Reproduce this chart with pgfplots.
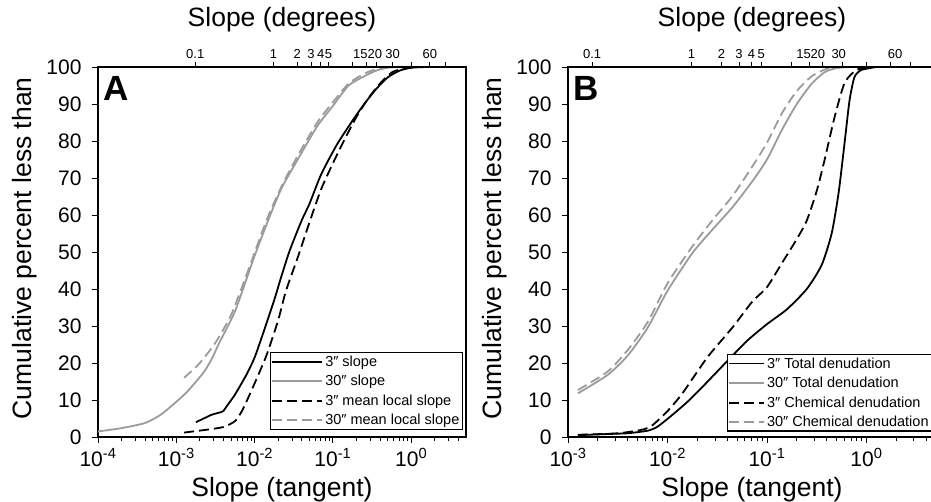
\documentclass[border=0pt]{standalone}
\usepackage{fontspec}
\setmainfont{Liberation Sans}
\usepackage{pgfplots}
\pgfplotsset{compat=1.18}

\definecolor{lgray}{RGB}{155,155,155}

\pgfplotsset{
  blk/.style={black, line width=1.8pt, smooth, tension=0.4},
  gry/.style={lgray, line width=1.8pt, smooth, tension=0.4},
  dsh/.style={dash pattern=on 10pt off 5pt},
}
\newcommand\tickfont{\fontsize{21}{21}\selectfont}
\newcommand\labfont{\fontsize{26.5}{26.5}\selectfont}
\newcommand\legfont{\fontsize{14.5}{16}\selectfont}
\newcommand\degfont{\fontsize{13}{14}\selectfont}

\begin{document}
\begin{tikzpicture}

% ---------- panel A ----------
\begin{axis}[at={(98pt,65pt)}, anchor=south west,
  scale only axis, width=368pt, height=370pt,
  xmode=log, xmin=1e-4, xmax=5, ymin=0, ymax=100,
  ytick={0,10,...,100},
  xtick={1e-4,1e-3,1e-2,1e-1,1},
  xticklabels={10\textsuperscript{-4},10\textsuperscript{-3},10\textsuperscript{-2},10\textsuperscript{-1},10\textsuperscript{0}},
  minor xtick={2e-4,3e-4,4e-4,5e-4,6e-4,7e-4,8e-4,9e-4,
    2e-3,3e-3,4e-3,5e-3,6e-3,7e-3,8e-3,9e-3,
    2e-2,3e-2,4e-2,5e-2,6e-2,7e-2,8e-2,9e-2,
    0.2,0.3,0.4,0.5,0.6,0.7,0.8,0.9,2,3,4},
  tick align=outside, xtick pos=bottom, ytick pos=left,
  major tick length=6pt, minor tick length=4pt,
  axis line style={line width=1.5pt},
  every tick/.style={line width=0.9pt, black},
  /pgf/number format/assume math mode=true,
  xticklabel style={font=\tickfont, yshift=-2pt},
  yticklabel style={font=\tickfont, xshift=-7pt},
  ylabel={Cumulative percent less than},
  ylabel style={at={(axis description cs:-0.2,0.51)}, anchor=center, font=\labfont},
  xlabel={Slope (tangent)},
  xlabel style={at={(axis description cs:0.5,-0.143)}, anchor=center, font=\labfont},
  legend cell align=left,
  legend style={at={(0.992,0.019)}, anchor=south east, draw=black, line width=1.4pt,
    inner sep=1pt, font=\legfont, row sep=3.5pt},
  legend image code/.code={\draw[#1, line width=1.6pt] (0pt,0pt) -- (50pt,0pt);}]
\addplot[blk] coordinates {(1.778e-3,4) (2.239e-3,5) (2.818e-3,6) (3.548e-3,6.6) (3.981e-3,7)
  (4.467e-3,8.5) (5.623e-3,11.5) (7.943e-3,17) (1e-2,21.5) (1.259e-2,27.5) (1.778e-2,37)
  (2.239e-2,44) (2.818e-2,50.5) (3.981e-2,58.5) (5.012e-2,63) (7.079e-2,71) (0.1122,79)
  (0.1778,85.5) (0.2512,90) (0.3548,94) (0.5012,97.2) (0.7079,99) (1,99.8) (1.585,100)};
\addlegendentry{3″ slope}
\addplot[gry] coordinates {(1e-4,1.5) (2e-4,2.4) (4e-4,3.8) (6.3e-4,6) (1e-3,9.5)
  (1.413e-3,12.5) (2.239e-3,17.5) (2.818e-3,21) (3.548e-3,25.5) (5.623e-3,34) (8.913e-3,46) (1e-2,49)
  (1.585e-2,60) (2.239e-2,67.5) (3.548e-2,75) (6.31e-2,84) (0.1,89.5) (0.1585,95)
  (0.2512,97.5) (0.3548,99) (0.5012,99.8) (0.794,100) (2.512,100)};
\addlegendentry{30″ slope}
\addplot[blk, dsh] coordinates {(1.259e-3,1.2) (2.512e-3,2) (3.981e-3,2.7) (5.623e-3,4.3)
  (7.079e-3,7.5) (1e-2,14.5) (1.413e-2,22) (1.995e-2,31.5) (2.512e-2,39.5) (3.548e-2,48.5)
  (5.012e-2,58) (7.079e-2,67) (0.1,74) (0.1413,80.5) (0.1995,86.5) (0.2818,91.5)
  (0.3981,95.5) (0.5623,98.5) (0.7943,99.6) (1.259,100)};
\addlegendentry{3″ mean local slope}
\addplot[gry, dsh] coordinates {(1.259e-3,16) (1.995e-3,20) (3.162e-3,25.5) (5.012e-3,33)
  (7.943e-3,44) (1.413e-2,58.5) (2.239e-2,68) (3.548e-2,76) (6.31e-2,85) (0.1,90.5)
  (0.1585,95.5) (0.2512,98.2) (0.3548,99.4) (0.5012,100) (1,100)};
\addlegendentry{30″ mean local slope}
\node[anchor=north west, inner sep=0pt, font=\bfseries\fontsize{35}{35}\selectfont]
  at (rel axis cs:0.015,0.975) {A};
\end{axis}

\begin{axis}[at={(98pt,65pt)}, anchor=south west,
  scale only axis, width=368pt, height=370pt,
  xmode=log, xmin=1e-4, xmax=5, ymin=0, ymax=100,
  axis x line*=top, axis y line=none,
  x axis line style={-, line width=1.5pt},
  tick align=outside, major tick length=5pt,
  every tick/.style={line width=0.9pt, black},
  xtick={0.0017453,0.0174551,0.0349208,0.0524078,0.0699268,0.0874887,0.176327,0.267949,0.36397,0.57735,1,1.73205,2.74748},
  xticklabels={0.1,1,2,3,4,5,,\makebox[0pt]{15\kern12pt},\makebox[0pt]{20\kern4pt},30,,60,},
  xticklabel style={font=\degfont},
  xlabel={Slope (degrees)},
  xlabel style={at={(axis description cs:0.5,1.127)}, anchor=center, font=\labfont}]
\addplot[draw=none] coordinates {(1,50)};
\end{axis}

% ---------- panel B ----------
\begin{axis}[at={(568pt,65pt)}, anchor=south west,
  scale only axis, width=368pt, height=370pt,
  xmode=log, xmin=1e-3, xmax=5, ymin=0, ymax=100,
  ytick={0,10,...,100},
  xtick={1e-3,1e-2,1e-1,1},
  xticklabels={10\textsuperscript{-3},10\textsuperscript{-2},10\textsuperscript{-1},10\textsuperscript{0}},
  minor xtick={2e-3,3e-3,4e-3,5e-3,6e-3,7e-3,8e-3,9e-3,
    2e-2,3e-2,4e-2,5e-2,6e-2,7e-2,8e-2,9e-2,
    0.2,0.3,0.4,0.5,0.6,0.7,0.8,0.9,2,3,4},
  tick align=outside, xtick pos=bottom, ytick pos=left,
  major tick length=6pt, minor tick length=4pt,
  axis line style={line width=1.5pt},
  every tick/.style={line width=0.9pt, black},
  /pgf/number format/assume math mode=true,
  xticklabel style={font=\tickfont, yshift=-2pt},
  yticklabel style={font=\tickfont, xshift=-7pt},
  ylabel={Cumulative percent less than},
  ylabel style={at={(axis description cs:-0.2,0.51)}, anchor=center, font=\labfont},
  xlabel={Slope (tangent)},
  xlabel style={at={(axis description cs:0.5,-0.143)}, anchor=center, font=\labfont},
  legend cell align=left,
  legend style={at={(0.99,0.014)}, anchor=south east, draw=black, line width=1.4pt,
    inner sep=1pt, font=\legfont, row sep=3.5pt},
  legend image code/.code={\draw[#1, line width=1.8pt] (0pt,0pt) -- (35pt,0pt);}]
\addplot[blk] coordinates {(1.259e-3,0.5) (3.162e-3,0.9) (3.981e-3,1.0) (6.31e-3,1.7)
  (7.943e-3,2.8) (1.122e-2,6) (1.585e-2,9.5) (2.239e-2,13.5) (3.981e-2,20.5) (6.31e-2,26)
  (0.1,30.5) (0.1585,34.5) (0.2512,40) (0.3548,46.5) (0.4467,55) (0.5248,66) (0.6026,79.5)
  (0.6761,91) (0.7586,97.3) (0.8913,99.2) (1.259,100)};
\addlegendentry{3″ Total denudation}
\addplot[gry] coordinates {(1.259e-3,11.8) (2.512e-3,16.8) (3.981e-3,22) (6.31e-3,29.5)
  (1e-2,39.5) (1.778e-2,49.7) (2.818e-2,56) (4.467e-2,62) (7.079e-2,69) (0.1,75)
  (0.1413,83) (0.1995,90) (0.2818,95.5) (0.38,98.6) (0.5012,99.7) (0.7079,100) (1,100)};
\addlegendentry{30″ Total denudation}
\addplot[blk, dsh] coordinates {(1.259e-3,0.6) (3.162e-3,1.0) (5.623e-3,2) (7.079e-3,3.2)
  (1e-2,7) (1.413e-2,11.8) (2.512e-2,21.5) (4.467e-2,29.5) (7.079e-2,36.5) (0.1,40.5)
  (0.1413,47) (0.1995,53.5) (0.2512,58.5) (0.3162,66.5) (0.3802,75) (0.4786,86.5) (0.6026,95.7)
  (0.7943,99.2) (1.122,100)};
\addlegendentry{3″ Chemical denudation}
\addplot[gry, dsh] coordinates {(1.259e-3,12.7) (2.512e-3,17.7) (3.981e-3,23.5) (6.31e-3,31)
  (1e-2,41.5) (1.778e-2,51.5) (2.818e-2,58.5) (4.467e-2,65) (7.079e-2,73) (0.1,79.5)
  (0.1413,87.5) (0.1995,93.5) (0.2818,97.5) (0.3981,99.5) (0.5623,100)};
\addlegendentry{30″ Chemical denudation}
\node[anchor=north west, inner sep=0pt, font=\bfseries\fontsize{35}{35}\selectfont]
  at (rel axis cs:0.015,0.975) {B};
\end{axis}

\begin{axis}[at={(568pt,65pt)}, anchor=south west,
  scale only axis, width=368pt, height=370pt,
  xmode=log, xmin=1e-3, xmax=5, ymin=0, ymax=100,
  axis x line*=top, axis y line=none,
  x axis line style={-, line width=1.5pt},
  tick align=outside, major tick length=5pt,
  every tick/.style={line width=0.9pt, black},
  xtick={0.0017453,0.0174551,0.0349208,0.0524078,0.0699268,0.0874887,0.176327,0.267949,0.36397,0.57735,1,1.73205,2.74748},
  xticklabels={0.1,1,2,3,4,5,,\makebox[0pt]{15\kern12pt},\makebox[0pt]{20\kern10pt},\makebox[0pt]{30\kern8pt},,\makebox[0pt]{\kern10pt 60},},
  xticklabel style={font=\degfont},
  xlabel={Slope (degrees)},
  xlabel style={at={(axis description cs:0.5,1.127)}, anchor=center, font=\labfont}]
\addplot[draw=none] coordinates {(1,50)};
\end{axis}

\pgfresetboundingbox
\useasboundingbox (0pt,0pt) rectangle (931pt,502pt);
\end{tikzpicture}
\end{document}
